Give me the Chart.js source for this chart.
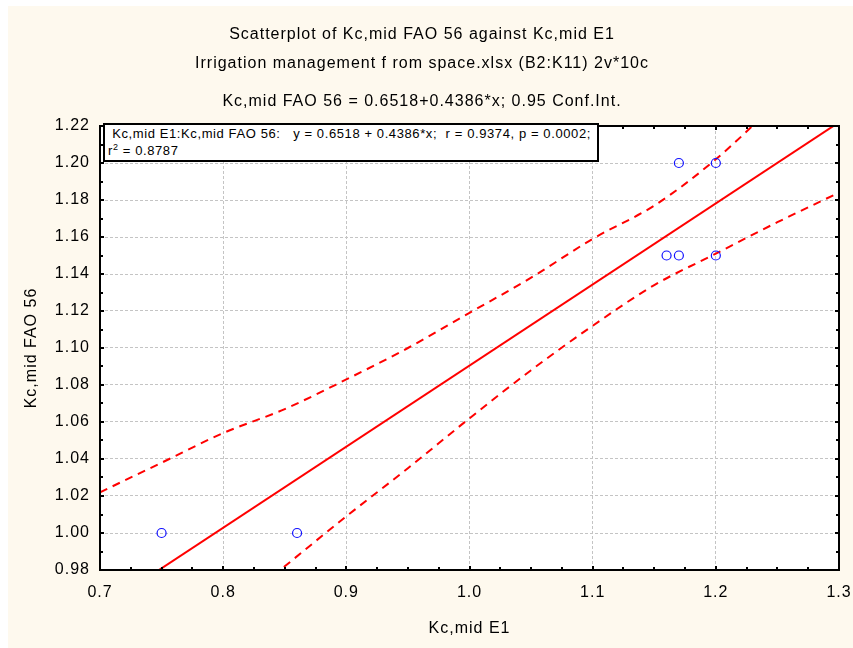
<!DOCTYPE html>
<html><head><meta charset="utf-8">
<script src="https://cdn.jsdelivr.net/npm/chart.js@4/dist/chart.umd.min.js"></script>
<style>
html,body{margin:0;padding:0;background:#fff;}
#wrap{position:relative;width:853px;height:648px;overflow:hidden;}
#bg{position:absolute;left:8px;top:6px;right:0;bottom:0;background:#FEF9EE;}
canvas{position:absolute;left:0;top:0;}
.t{position:absolute;left:0;width:844px;text-align:center;font-family:"Liberation Sans",Arial,sans-serif;font-size:16px;letter-spacing:1px;line-height:20px;color:#000;white-space:pre;}
#stat{position:absolute;left:103px;top:123px;width:489px;height:35px;border:2px solid #000;background:#fff;font-family:"Liberation Sans",Arial,sans-serif;font-size:13px;letter-spacing:0.6px;line-height:17px;color:#000;white-space:pre;padding-left:3px;}
#stat sup{font-size:9px;line-height:0;vertical-align:5px;}
</style>
</head><body>
<div id="wrap">
<div id="bg"></div>
<canvas id="c" width="853" height="648"></canvas>
<div class="t" style="top:24px">Scatterplot of Kc,mid FAO 56 against Kc,mid E1</div>
<div class="t" style="top:53px">Irrigation management f rom space.xlsx (B2:K11) 2v*10c</div>
<div class="t" style="top:91px">Kc,mid FAO 56 = 0.6518+0.4386*x; 0.95 Conf.Int.</div>
<div id="stat"> Kc,mid E1:Kc,mid FAO 56:   y = 0.6518 + 0.4386*x;  r = 0.9374, p = 0.0002;
r<sup>2</sup> = 0.8787</div>
</div>
<script>
// ---- data ----
const kcE1  = [0.75, 0.86, 1.16, 1.17, 1.17, 1.20, 1.20];
const kcFAO = [1.00, 1.00, 1.15, 1.15, 1.20, 1.15, 1.20];
const fitX = [0.70, 1.30];
const fitY = [0.959, 1.222];
const bandX = [0.70, 0.75, 0.80, 0.85, 0.90, 0.95, 1.00, 1.05, 1.10, 1.15, 1.20, 1.25, 1.30];
const bandUpper = [1.022, 1.038, 1.054, 1.067, 1.083, 1.100, 1.119, 1.138, 1.159, 1.177, 1.202, 1.233, 1.265];
const bandLower = [0.900, 0.928, 0.955, 0.982, 1.009, 1.035, 1.062, 1.088, 1.112, 1.134, 1.151, 1.168, 1.184];
const xTicks = [0.7, 0.8, 0.9, 1.0, 1.1, 1.2, 1.3];
const yTicks = [0.98, 1.00, 1.02, 1.04, 1.06, 1.08, 1.10, 1.12, 1.14, 1.16, 1.18, 1.20, 1.22];
const xTitle = 'Kc,mid E1';
const yTitle = 'Kc,mid FAO 56';

const FONT = '"Liberation Sans", Arial, sans-serif';
const RED = '#FF0000';
const BLUE = '#1010FF';

const zip = (xs, ys) => xs.map((x, i) => ({x, y: ys[i]}));

const spacingPlugin = {
  id: 'spacing',
  beforeLayout(chart){ chart.ctx.letterSpacing = '1px'; },
  beforeDraw(chart){
    chart.ctx.letterSpacing = '1px';
    const {ctx, chartArea: a} = chart;
    ctx.save();
    ctx.fillStyle = '#fff';
    ctx.fillRect(a.left, a.top, a.right - a.left, a.bottom - a.top);
    ctx.restore();
  }
};

const framePlugin = {
  id: 'frame',
  afterDatasetsDraw(chart){
    const {ctx, chartArea: a, scales: {x, y}} = chart;
    ctx.save();
    ctx.strokeStyle = '#000';
    ctx.lineWidth = 2;
    ctx.setLineDash([]);
    ctx.strokeRect(a.left, a.top, a.right - a.left, a.bottom - a.top);
    ctx.beginPath();
    for (let i = 0; i <= 24; i++) {
      const v = 0.7 + i * 0.025;
      const px = Math.round(x.getPixelForValue(v));
      const len = (i % 4 === 0) ? 4 : 3;
      ctx.moveTo(px, a.bottom); ctx.lineTo(px, a.bottom - len);
      ctx.moveTo(px, a.top); ctx.lineTo(px, a.top + len);
    }
    for (let i = 0; i <= 24; i++) {
      const v = 0.98 + i * 0.01;
      const py = Math.round(y.getPixelForValue(v));
      const len = (i % 2 === 0) ? 4 : 3;
      ctx.moveTo(a.left, py); ctx.lineTo(a.left + len, py);
      ctx.moveTo(a.right, py); ctx.lineTo(a.right - len, py);
    }
    ctx.stroke();
    ctx.restore();
  }
};

new Chart(document.getElementById('c'), {
  type: 'scatter',
  data: {
    datasets: [
      { data: zip(kcE1, kcFAO), pointRadius: 4.5, pointBorderWidth: 1.2,
        pointBorderColor: BLUE, pointBackgroundColor: 'rgba(0,0,0,0)', showLine: false },
      { data: zip(fitX, fitY), showLine: true, borderColor: RED, borderWidth: 2, pointRadius: 0 },
      { data: zip(bandX, bandUpper), showLine: true, borderColor: RED, borderWidth: 2,
        borderDash: [8, 6], pointRadius: 0, cubicInterpolationMode: 'monotone' },
      { data: zip(bandX, bandLower), showLine: true, borderColor: RED, borderWidth: 2,
        borderDash: [8, 6], pointRadius: 0, cubicInterpolationMode: 'monotone' }
    ]
  },
  options: {
    responsive: false,
    animation: false,
    devicePixelRatio: 1,
    events: [],
    layout: { padding: { left: 0, right: 14, top: 126, bottom: 0 } },
    plugins: { legend: { display: false }, tooltip: { enabled: false }, title: { display: false } },
    scales: {
      x: {
        type: 'linear', min: 0.7, max: 1.3,
        afterBuildTicks: s => { s.ticks = xTicks.map(v => ({value: v})); },
        afterFit: s => { s.height = 78; s.paddingLeft = 0; s.paddingRight = 0; },
        ticks: { color: '#000', font: { family: FONT, size: 16 }, padding: 13, maxRotation: 0, autoSkip: false,
                 callback: v => Number(v).toFixed(1) },
        grid: { color: '#c4c4c4', lineWidth: 1, drawTicks: false },
        border: { display: false, dash: [3, 2] },
        title: { display: true, text: xTitle, color: '#000', font: { family: FONT, size: 16 }, padding: { top: 0, bottom: 10 } }
      },
      y: {
        type: 'linear', min: 0.98, max: 1.22,
        afterBuildTicks: s => { s.ticks = yTicks.map(v => ({value: v})); },
        afterFit: s => { s.width = 100; },
        ticks: { color: '#000', font: { family: FONT, size: 16 }, padding: 10, autoSkip: false,
                 callback: v => Number(v).toFixed(2) },
        grid: { color: '#c4c4c4', lineWidth: 1, drawTicks: false },
        border: { display: false, dash: [3, 2] },
        title: { display: true, text: yTitle, color: '#000', font: { family: FONT, size: 16 }, padding: { top: 22, bottom: 0 } }
      }
    }
  },
  plugins: [spacingPlugin, framePlugin]
});
</script>
</body></html>
